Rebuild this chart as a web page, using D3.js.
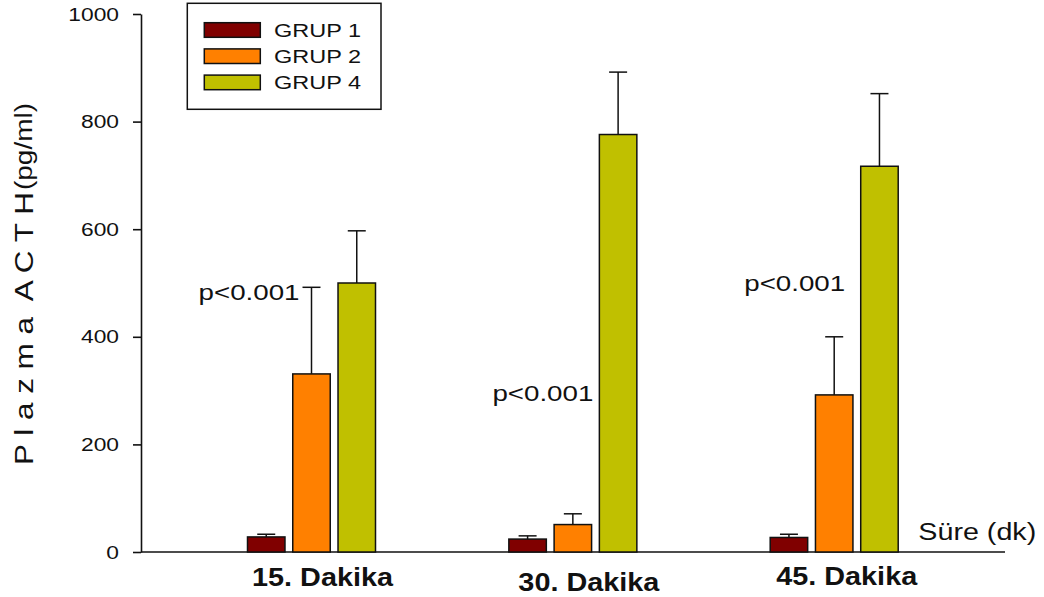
<!DOCTYPE html>
<html>
<head>
<meta charset="utf-8">
<script src="https://cdn.jsdelivr.net/npm/d3@7"></script>
<style>
  html, body { margin: 0; padding: 0; background: #fff; }
  svg { display: block; font-family: "Liberation Sans", Arial, Helvetica, sans-serif; }
  text { white-space: pre; }
</style>
</head>
<body>
<svg id="chart" width="1044" height="597"></svg>
<script>
// Plasma ACTH (pg/ml), mean and upper error per group at each sampling time
const categories = ["15. Dakika", "30. Dakika", "45. Dakika"];
const seriesNames = ["GRUP 1", "GRUP 2", "GRUP 4"];
const grup1Mean = [28, 24, 27];
const grup1Err  = [5, 6, 6];
const grup2Mean = [331, 51, 292];
const grup2Err  = [161, 20, 108];
const grup4Mean = [500, 776, 717];
const grup4Err  = [97, 116, 135];
const yTicks = [0, 200, 400, 600, 800, 1000];
const pLabels = ["p<0.001", "p<0.001", "p<0.001"];
const pLevels = [481, 294, 498];   // y-scale level at which each p note sits

const series = [
  { name: seriesNames[0], mean: grup1Mean, err: grup1Err, color: "#800000" },
  { name: seriesNames[1], mean: grup2Mean, err: grup2Err, color: "#ff8000" },
  { name: seriesNames[2], mean: grup4Mean, err: grup4Err, color: "#c0c000" }
];

const svg = d3.select("#chart");
const ink = "#111";

const y = d3.scaleLinear().domain([0, 1000]).range([552, 14]);
const x = d3.scalePoint().domain(categories).range([311.5, 834.2]);
const inner = d3.scaleBand().domain(seriesNames).range([-64, 64]).paddingInner(0.172);

// Text helper: draws a string and stretches it horizontally to a given width
function fitText(parent, str, tx, ty, size, width, anchor, weight) {
  const t = parent.append("text")
    .attr("font-size", size)
    .attr("font-weight", weight || "normal")
    .attr("text-anchor", anchor)
    .attr("fill", ink)
    .text(str);
  const k = width / t.node().getComputedTextLength();
  t.attr("transform", `translate(${tx},${ty}) scale(${k},1)`);
  return t;
}

// y axis
const yAxis = svg.append("g")
  .attr("transform", "translate(141,0)")
  .call(d3.axisLeft(y).tickValues(yTicks).tickSize(8).tickSizeOuter(0).tickPadding(14).tickFormat(d3.format("d")));
yAxis.attr("font-family", null).attr("font-size", null);
yAxis.select(".domain").attr("stroke", ink).attr("stroke-width", 1.6);
yAxis.selectAll(".tick line").attr("stroke", ink).attr("stroke-width", 1.6);
yAxis.selectAll(".tick text").each(function () {
  const t = d3.select(this);
  t.attr("font-size", 19).attr("fill", ink);
  const xPos = +t.attr("x");
  t.attr("x", xPos / 1.2).attr("transform", "scale(1.2,1)");
});

// baseline
svg.append("line")
  .attr("x1", 141).attr("x2", 1005)
  .attr("y1", y(0)).attr("y2", y(0))
  .attr("stroke", ink).attr("stroke-width", 1.6);

// bars and error bars
const groups = svg.append("g").selectAll("g")
  .data(series).join("g");

groups.each(function (s) {
  const g = d3.select(this);
  categories.forEach((c, i) => {
    const bx = x(c) + inner(s.name);
    const bw = inner.bandwidth();
    const cx = bx + bw / 2;
    const top = s.mean[i] + s.err[i];
    g.append("line")
      .attr("x1", cx).attr("x2", cx)
      .attr("y1", y(s.mean[i])).attr("y2", y(top))
      .attr("stroke", ink).attr("stroke-width", 1.5);
    g.append("line")
      .attr("x1", cx - 9).attr("x2", cx + 9)
      .attr("y1", y(top)).attr("y2", y(top))
      .attr("stroke", ink).attr("stroke-width", 1.5);
    g.append("rect")
      .attr("x", bx).attr("width", bw)
      .attr("y", y(s.mean[i])).attr("height", y(0) - y(s.mean[i]))
      .attr("fill", s.color)
      .attr("stroke", ink).attr("stroke-width", 1.5);
  });
});

// category labels
const catNudge = [11, 16, 12.5];
const catBase = [586, 590.7, 585];
categories.forEach((c, i) => {
  fitText(svg, c, x(c) + catNudge[i], catBase[i], 26, 141, "middle", "bold");
});

// p-value notes
const pEnd = [-12, 20.5, 11];
pLabels.forEach((p, i) => {
  fitText(svg, p, x(categories[i]) + pEnd[i], y(pLevels[i]) + 7, 22, 101, "end");
});

// x-axis title
fitText(svg, "Süre (dk)", 918.3, 540, 24, 118, "start");

// y-axis title
const yTitle = svg.append("g").attr("transform", "translate(33,465) rotate(-90)");
fitText(yTitle, "P l a z m a  A C T H", 0, 0, 26, 273, "start");
const yUnit = svg.append("g").attr("transform", "translate(32,190) rotate(-90)");
fitText(yUnit, "(pg/ml)", 0, 0, 23, 87, "start");

// legend
const legend = svg.append("g");
legend.append("rect")
  .attr("x", 187.3).attr("y", 3.3).attr("width", 193.7).attr("height", 106)
  .attr("fill", "#fff").attr("stroke", ink).attr("stroke-width", 1.5);
series.forEach((s, i) => {
  const ry = 22.7 + i * 26.2;
  legend.append("rect")
    .attr("x", 204.3).attr("y", ry).attr("width", 56).attr("height", 14.6)
    .attr("fill", s.color).attr("stroke", ink).attr("stroke-width", 1.5);
  fitText(legend, s.name, 274, ry + 14, 18.6, 87, "start");
});
</script>
</body>
</html>
